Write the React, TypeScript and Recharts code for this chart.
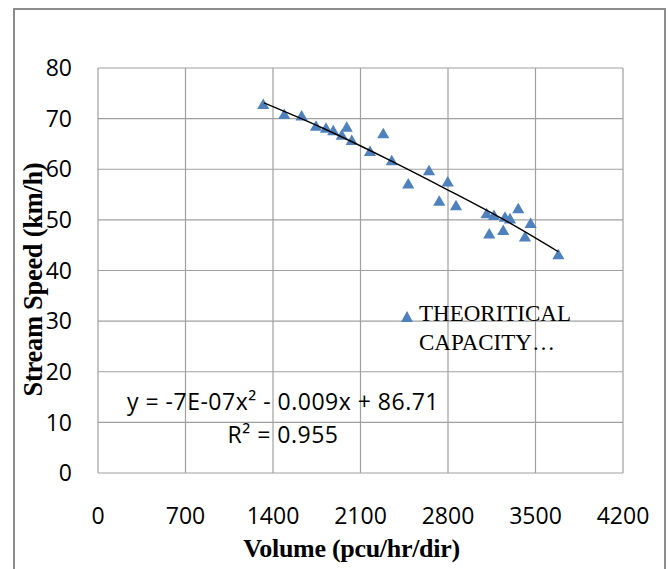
import React from "react";
import {
  ComposedChart,
  Scatter,
  XAxis,
  YAxis,
  ZAxis,
  CartesianGrid,
  Legend,
  Label,
} from "recharts";

// Observed points: volume (pcu/hr/dir) and stream speed (km/h)
const volumes = [
  1322, 1490, 1629, 1744, 1824, 1882, 1990, 1950, 2030, 2282, 2176, 2350, 2482,
  2648, 2798, 2730, 2864, 3109, 3168, 3130, 3256, 3296, 3242, 3362, 3461, 3416,
  3683,
];
const speeds = [
  72.6, 70.6, 70.3, 68.3, 67.9, 67.4, 68.1, 66.5, 65.5, 66.8, 63.3, 61.5, 56.9,
  59.5, 57.3, 53.5, 52.6, 51.0, 50.65, 47.0, 50.3, 50.0, 47.7, 52.0, 49.1, 46.4,
  42.9,
];

// Trendline points
const trendX = [1328, 1800, 2300, 2800, 3300, 3683];
const trendY = [73.1, 68.1, 62.2, 55.9, 49.3, 43.7];

const xTicks = [0, 700, 1400, 2100, 2800, 3500, 4200];
const yTicks = [0, 10, 20, 30, 40, 50, 60, 70, 80];

const seriesName = "THEORITICAL CAPACITY…";
const legendLines = ["THEORITICAL", "CAPACITY…"];
const equationLines = ["y = -7E-07x² - 0.009x + 86.71", "R² = 0.955"];
const xTitle = "Volume (pcu/hr/dir)";
const yTitle = "Stream Speed (km/h)";

const points = volumes.map((v, i) => ({ x: v, y: speeds[i] }));
const trend = trendX.map((v, i) => ({ x: v, y: trendY[i] }));

const BLUE = "#4F81BD";
const GRID = "#a0a0a0";
const TICK_FONT = "'Open Sans', sans-serif";
const SERIF = "'Liberation Serif', 'Times New Roman', serif";

const YTitle = (props: any) => {
  const vb = props.viewBox || { y: 68, height: 405 };
  const cx = 33;
  const cy = vb.y + vb.height / 2 + 9;
  return (
    <text
      x={cx}
      y={cy}
      transform={`rotate(-90 ${cx} ${cy})`}
      textAnchor="middle"
      dominantBaseline="central"
      fontFamily={SERIF}
      fontWeight="bold"
      fontSize={26.5}
      letterSpacing={-0.3}
      fill="#000"
    >
      {yTitle}
    </text>
  );
};

const XTitle = (props: any) => {
  const vb = props.viewBox || { x: 98, width: 525 };
  const cx = vb.x + vb.width / 2 - 9;
  const cy = 548;
  return (
    <text
      x={cx}
      y={cy}
      textAnchor="middle"
      dominantBaseline="central"
      fontFamily={SERIF}
      fontWeight="bold"
      fontSize={26}
      letterSpacing={-0.3}
      fill="#000"
    >
      {xTitle}
    </text>
  );
};

const LegendContent = () => (
  <svg width={200} height={60} style={{ overflow: "visible" }}>
    <path d="M 9 13 L 15 24 L 3 24 Z" fill={BLUE} />
    {legendLines.map((t, i) => (
      <text
        key={i}
        x={21}
        y={15 + i * 29}
        dominantBaseline="central"
        fontFamily={SERIF}
        fontSize={23}
        fill="#000"
      >
        {t}
      </text>
    ))}
  </svg>
);

const NoShape = () => null;

export default function App() {
  return (
    <div
      style={{
        position: "absolute",
        left: 0,
        top: 0,
        width: 669,
        height: 569,
        overflow: "hidden",
        background: "#fff",
      }}
    >
      <div
        style={{
          position: "absolute",
          left: 13,
          top: 8,
          width: 653,
          height: 620,
          border: "2px solid #8c8c8c",
          boxSizing: "border-box",
        }}
      />
      <div style={{ position: "absolute", left: 0, top: 0 }}>
        <ComposedChart
          width={669}
          height={569}
          margin={{ top: 68, right: 46, bottom: 0, left: 14 }}
        >
          <CartesianGrid stroke={GRID} strokeWidth={1.2} />
          <XAxis
            type="number"
            dataKey="x"
            domain={[0, 4200]}
            ticks={xTicks}
            interval={0}
            height={96}
            axisLine={false}
            tickLine={false}
            tickSize={0}
            tickMargin={35}
            tick={{ fontFamily: TICK_FONT, fontSize: 23, fill: "#000" }}
          >
            <Label content={<XTitle />} />
          </XAxis>
          <YAxis
            type="number"
            dataKey="y"
            domain={[0, 80]}
            ticks={yTicks}
            interval={0}
            width={84}
            axisLine={false}
            tickLine={false}
            tickSize={0}
            tickMargin={26}
            tick={{ fontFamily: TICK_FONT, fontSize: 23, fill: "#000" }}
          >
            <Label content={<YTitle />} />
          </YAxis>
          <ZAxis range={[150, 150]} />
          <Legend
            layout="vertical"
            align="center"
            verticalAlign="middle"
            content={<LegendContent />}
            wrapperStyle={{ position: "absolute", left: 398, top: 298, width: 200, height: 60 }}
          />
          <Scatter
            name={seriesName}
            data={points}
            fill={BLUE}
            shape="triangle"
            isAnimationActive={false}
          />
          <Scatter
            name="trend"
            legendType="none"
            data={trend}
            line={{ stroke: "#000", strokeWidth: 1.4 }}
            lineJointType="monotoneX"
            shape={<NoShape />}
            isAnimationActive={false}
          />
        </ComposedChart>
      </div>
      <div
        style={{
          position: "absolute",
          left: 93,
          top: 385,
          width: 380,
          textAlign: "center",
          fontFamily: TICK_FONT,
          fontSize: 23,
          letterSpacing: "0.5px",
          lineHeight: "33px",
          color: "#000",
        }}
      >
        {equationLines.map((t, i) => (
          <div key={i}>{t}</div>
        ))}
      </div>
    </div>
  );
}
